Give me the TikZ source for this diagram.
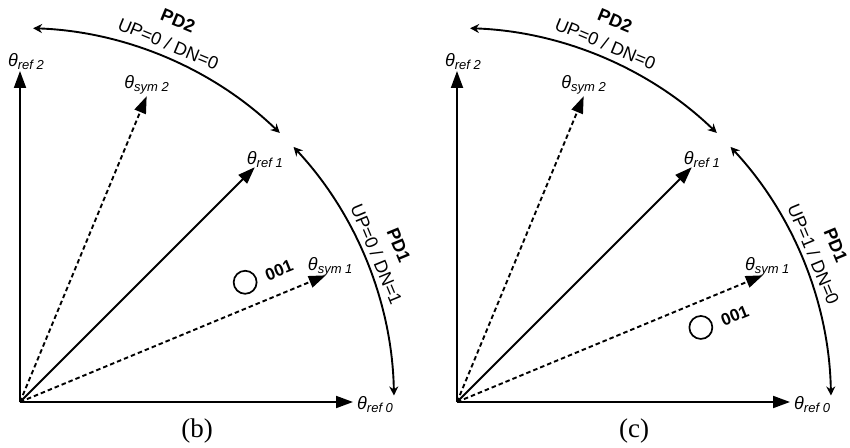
\documentclass[tikz,border=0pt]{standalone}
\usepackage{fontspec}
\setmainfont{Liberation Sans}
\newfontfamily\capfont{Liberation Serif}
\usepackage{tikz}
\usetikzlibrary{
  arrows.meta,
  positioning
}
\newcommand{\thlab}[1]{{\itshape θ}\raisebox{-3pt}{\fontsize{13}{13}\selectfont\itshape #1}}
\tikzset{
  vec/.style={line width=1.9pt, -{Triangle[length=17pt, width=12pt]}},
  symvec/.style={vec, dash pattern=on 4.5pt off 3pt},
  pdarc/.style={line width=1.9pt, {Stealth[length=9pt, width=9pt]}-{Stealth[length=9pt, width=9pt]}},
  thlabel/.style={font=\fontsize{18}{18}\selectfont, inner sep=0pt},
  pdname/.style={font=\fontsize{18}{18}\selectfont\bfseries, inner sep=0pt},
  pdstate/.style={font=\fontsize{18}{18}\selectfont, inner sep=0pt},
  statenode/.style={draw, circle, line width=1.7pt, minimum size=23pt, inner sep=0pt},
  statelab/.style={font=\fontsize{17}{17}\selectfont\bfseries, inner sep=0pt, rotate=22},
  caption/.style={font=\capfont\fontsize{27}{27}\selectfont, inner sep=0pt}
}

\begin{document}
\begin{tikzpicture}[x=1pt, y=1pt]
  \useasboundingbox (0,0) rectangle (850,447);
  \foreach \pn/\ox/\up/\dn/\ang in {b/20/0/1/28, c/457/1/0/17}{
    \coordinate (o\pn) at (\ox,45);
    % reference and symbol vectors
    \coordinate (r0\pn) at ([shift={(0:333)}]o\pn);
    \coordinate (r1\pn) at ([shift={(45:332)}]o\pn);
    \coordinate (r2\pn) at ([shift={(90:331)}]o\pn);
    \coordinate (s1\pn) at ([shift={(22.5:331)}]o\pn);
    \coordinate (s2\pn) at ([shift={(67.5:331)}]o\pn);
    \draw[vec] (o\pn) -- (r0\pn);
    \draw[vec] (o\pn) -- (r1\pn);
    \draw[vec] (o\pn) -- (r2\pn);
    \draw[symvec] (o\pn) -- (s1\pn);
    \draw[symvec] (o\pn) -- (s2\pn);
    \node[thlabel, right=4pt of r0\pn, yshift=-3pt] (l0\pn) {\thlab{ref 0}};
    \node[thlabel, anchor=south west, xshift=-8pt, yshift=-1pt] (l1\pn) at (r1\pn) {\thlab{ref 1}};
    \node[thlabel, above=1pt of r2\pn, xshift=6pt] (l2\pn) {\thlab{ref 2}};
    \node[thlabel, anchor=south west, xshift=-18pt, yshift=-1pt] (ls1\pn) at (s1\pn) {\thlab{sym 1}};
    \node[thlabel, above=2pt of s2\pn] (ls2\pn) {\thlab{sym 2}};
    % phase detector ranges
    \coordinate (a1\pn) at ([shift={(43:374)}]o\pn);
    \coordinate (a2\pn) at ([shift={(46:374)}]o\pn);
    \draw[pdarc] (a1\pn) arc[start angle=43, end angle=1, radius=374];
    \draw[pdarc] (a2\pn) arc[start angle=46, end angle=88, radius=374];
    \node[pdstate, rotate=-67.5] (u1\pn) at ([shift={(22.5:386)}]o\pn) {UP=\up{} / DN=\dn};
    \node[pdname, rotate=-67.5] (n1\pn) at ([shift={(22.5:410)}]o\pn) {PD1};
    \node[pdstate, rotate=-22.5] (u2\pn) at ([shift={(67.5:388)}]o\pn) {UP=0 / DN=0};
    \node[pdname, rotate=-22.5] (n2\pn) at ([shift={(67.5:413)}]o\pn) {PD2};
    % received state
    \node[statenode] (st\pn) at ([shift={(\ang:255)}]o\pn) {};
    \node[statelab] (bit\pn) at ([shift={(34,12)}]st\pn) {001};
    \node[caption] (cap\pn) at ([shift={(177,-29)}]o\pn) {(\pn)};
  }
\end{tikzpicture}
\end{document}
